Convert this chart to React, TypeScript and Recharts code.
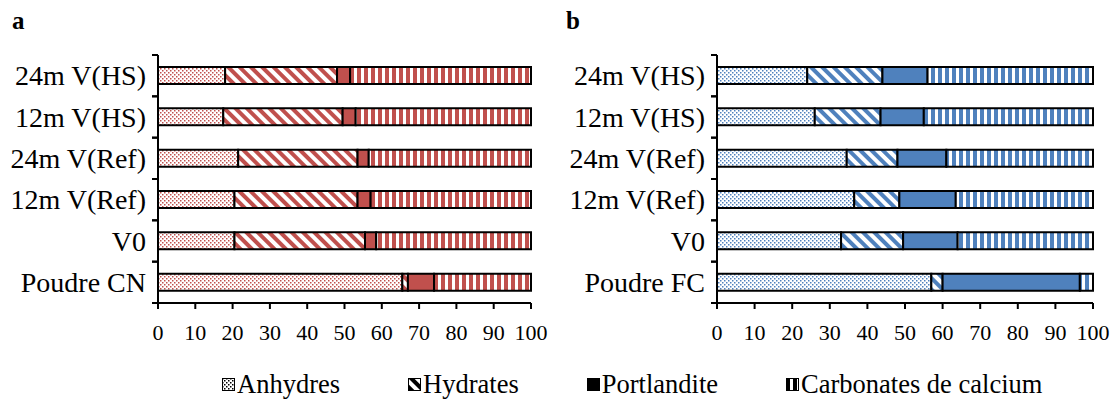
import React from 'react';
import { BarChart, Bar, XAxis, YAxis } from 'recharts';

// Panel a (CN) and panel b (FC), values in %
const categoriesA = ['24m V(HS)', '12m V(HS)', '24m V(Ref)', '12m V(Ref)', 'V0', 'Poudre CN'];
const anhydresA = [18, 17.5, 21.5, 20.5, 20.5, 65.5];
const hydratesA = [30, 32, 32, 33, 35, 1.5];
const portlanditeA = [3.5, 3.5, 3, 3.5, 3, 7];
const carbonatesA = [48.5, 47, 43.5, 43, 41.5, 26];

const categoriesB = ['24m V(HS)', '12m V(HS)', '24m V(Ref)', '12m V(Ref)', 'V0', 'Poudre FC'];
const anhydresB = [24, 26, 34.5, 36.5, 33, 57];
const hydratesB = [20, 17.5, 13.5, 12, 16.5, 3];
const portlanditeB = [12, 11.5, 13, 15, 14.5, 36.5];
const carbonatesB = [44, 45, 39, 36.5, 36, 3.5];

const seriesNames = ['Anhydres', 'Hydrates', 'Portlandite', 'Carbonates de calcium'];
const xTicks = [0, 10, 20, 30, 40, 50, 60, 70, 80, 90, 100];

const RED = '#C0504D';
const BLUE = '#4F81BD';
const FONT = '"Liberation Serif", "Times New Roman", serif';

const CHART_H = 362;
const PLOT_TOP = 55;
const AXIS_H = 59;
const BAND = (CHART_H - PLOT_TOP - AXIS_H) / 6;

const buildData = (cats: string[], a: number[], h: number[], p: number[], c: number[]) =>
  cats.map((name, i) => ({ name, anhydres: a[i], hydrates: h[i], portlandite: p[i], carbonates: c[i] }));

function Patterns({ id, color, bg = '#fff' }: { id: string; color: string; bg?: string }) {
  return (
    <defs>
      <pattern id={`dots-${id}`} width={4} height={4} patternUnits="userSpaceOnUse">
        <rect width={4} height={4} fill={bg} />
        <rect x={0} y={0} width={1.5} height={1.5} fill={color} />
        <rect x={2} y={2} width={1.5} height={1.5} fill={color} />
      </pattern>
      <pattern id={`diag-${id}`} width={8} height={8} patternUnits="userSpaceOnUse" patternTransform="rotate(-45)">
        <rect width={8} height={8} fill={bg} />
        <rect width={4} height={8} fill={color} />
      </pattern>
      <pattern id={`vert-${id}`} width={7} height={7} patternUnits="userSpaceOnUse">
        <rect width={7} height={7} fill={bg} />
        <rect width={4} height={7} fill={color} />
      </pattern>
    </defs>
  );
}

const CategoryTick = (props: any) => {
  const { x, y, payload } = props;
  const ax = x + 12;
  return (
    <g>
      <line x1={ax - 6} x2={ax} y1={y - BAND / 2} y2={y - BAND / 2} stroke="#000" strokeWidth={2} />
      <line x1={ax - 6} x2={ax} y1={y + BAND / 2} y2={y + BAND / 2} stroke="#000" strokeWidth={2} />
      <text x={x} y={y} dy="0.35em" textAnchor="end" fontFamily={FONT} fontSize={28} fill="#000">
        {payload.value}
      </text>
    </g>
  );
};

function Panel({ id, color, data, width, yWidth, right }: any) {
  const axisLine = { stroke: '#000', strokeWidth: 2 };
  return (
    <BarChart
      width={width}
      height={CHART_H}
      data={data}
      layout="vertical"
      margin={{ top: PLOT_TOP, right, bottom: 0, left: 0 }}
      barSize={17}
    >
      <Patterns id={id} color={color} />
      <XAxis
        type="number"
        domain={[0, 100]}
        ticks={xTicks}
        interval={0}
        height={AXIS_H}
        axisLine={axisLine}
        tickLine={{ stroke: '#000', strokeWidth: 2 }}
        tickSize={6}
        tickMargin={15}
        tick={{ fontFamily: FONT, fontSize: 22, fill: '#000' }}
      />
      <XAxis xAxisId="top" orientation="top" type="number" domain={[0, 100]} height={0} tick={false} tickLine={false} axisLine={axisLine} />
      <YAxis
        type="category"
        dataKey="name"
        width={yWidth}
        axisLine={axisLine}
        tickLine={false}
        tickSize={6}
        tickMargin={6}
        tick={<CategoryTick />}
        interval={0}
      />
      <YAxis yAxisId="right" orientation="right" type="category" dataKey="name" width={0} tick={false} tickLine={false} axisLine={axisLine} />
      <Bar dataKey="anhydres" stackId="s" fill={`url(#dots-${id})`} stroke="#000" strokeWidth={2} isAnimationActive={false} />
      <Bar dataKey="hydrates" stackId="s" fill={`url(#diag-${id})`} stroke="#000" strokeWidth={2} isAnimationActive={false} />
      <Bar dataKey="portlandite" stackId="s" fill={color} stroke="#000" strokeWidth={2} isAnimationActive={false} />
      <Bar dataKey="carbonates" stackId="s" fill={`url(#vert-${id})`} stroke="#000" strokeWidth={2} isAnimationActive={false} />
    </BarChart>
  );
}

const legendFills = ['url(#dots-leg)', 'url(#diag-leg)', '#000', 'url(#vert-leg)'];

export default function App() {
  const dataA = buildData(categoriesA, anhydresA, hydratesA, portlanditeA, carbonatesA);
  const dataB = buildData(categoriesB, anhydresB, hydratesB, portlanditeB, carbonatesB);
  const letterStyle: React.CSSProperties = {
    position: 'absolute', top: 7, fontFamily: FONT, fontWeight: 'bold', fontSize: 25, lineHeight: 1.15, color: '#000',
  };
  return (
    <div style={{ position: 'absolute', left: 0, top: 0, width: 1113, height: 399, background: '#fff', overflow: 'hidden' }}>
      <div style={{ ...letterStyle, left: 12 }}>a</div>
      <div style={{ ...letterStyle, left: 566 }}>b</div>
      <div style={{ position: 'absolute', left: 0, top: 0 }}>
        <Panel id="a" color={RED} data={dataA} width={560} yWidth={158} right={29} />
      </div>
      <div style={{ position: 'absolute', left: 560, top: 0 }}>
        <Panel id="b" color={BLUE} data={dataB} width={553} yWidth={157} right={20} />
      </div>
      <svg width={0} height={0} style={{ position: 'absolute' }}>
        <Patterns id="leg" color="#000" />
      </svg>
      <div style={{ position: 'absolute', left: 222, top: 369, display: 'flex', gap: 68, alignItems: 'center', fontFamily: FONT, fontSize: 26.5, lineHeight: 1.15, color: '#000', whiteSpace: 'nowrap' }}>
        {seriesNames.map((n, i) => (
          <div key={n} style={{ display: 'flex', alignItems: 'center' }}>
            <svg width={13} height={13} style={{ marginRight: 2 }}>
              <rect x={0.5} y={0.5} width={12} height={12} fill={legendFills[i]} stroke="#000" strokeWidth={1} />
            </svg>
            <span>{n}</span>
          </div>
        ))}
      </div>
    </div>
  );
}
